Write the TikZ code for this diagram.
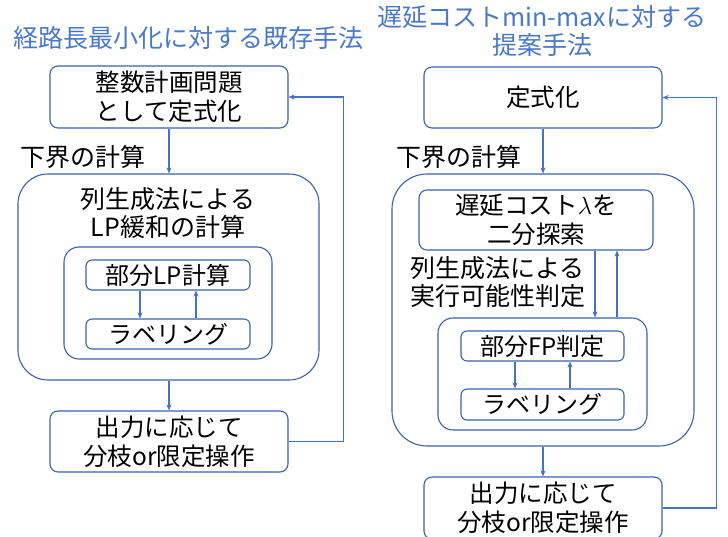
\documentclass[tikz,border=0pt]{standalone}
\usepackage{fontspec}
\setmainfont{Noto Sans CJK JP}
\usetikzlibrary{arrows.meta,calc}
\definecolor{boxline}{HTML}{3A62A8}
\definecolor{arrowc}{HTML}{4472C4}
\definecolor{titlec}{HTML}{4A78C8}
\tikzset{
  rbox/.style={draw=boxline, line width=1.1pt, rounded corners=#1, inner sep=0pt, align=center, font=\fontsize{24.5}{29}\selectfont},
  rbox/.default=8pt,
  sbox/.style={draw=boxline, line width=1.1pt, rounded corners=6pt, inner sep=0pt, align=center, font=\fontsize{24}{28}\selectfont},
  arr/.style={draw=arrowc, line width=1.4pt, -{Stealth[length=6pt,width=5pt]}},
  plain/.style={font=\fontsize{25}{28}\selectfont, inner sep=0pt, align=center},
  ttl/.style={font=\fontsize{25}{28}\selectfont, text=titlec, inner sep=0pt, align=center},
}
\begin{document}
\begin{tikzpicture}[x=1pt,y=-1pt]
\useasboundingbox (0,0) rectangle (728,537);
% ---------- left column ----------
\node[ttl] (lt) at (188,38) {経路長最小化に対する既存手法};
\node[rbox, minimum width=238pt, minimum height=62pt] (b1) at (169,97) {整数計画問題\\として定式化};
\node[plain, anchor=west] (lb1) at (20,157) {下界の計算};
\node[rbox=30pt, minimum width=301pt, minimum height=206pt] (big1) at (168.5,277) {};
\node[plain] (t1) at (168,213) {列生成法による\\LP緩和の計算};
\node[rbox=15pt, minimum width=208pt, minimum height=112pt] (in1) at (168,303) {};
\node[sbox, minimum width=164pt, minimum height=30pt] (s1) at (168,275) {部分LP計算};
\node[sbox, minimum width=164pt, minimum height=30pt] (s2) at (168,334) {ラベリング};
\node[rbox, minimum width=238pt, minimum height=61pt] (b4) at (169,441.5) {出力に応じて\\分枝or限定操作};
\draw[arr] (b1.south) -- (b1.south |- big1.north);
\draw[arr] ([xshift=-28pt]s1.south) -- ([xshift=-28pt]s2.north);
\draw[arr] ([xshift=28pt]s2.north) -- ([xshift=28pt]s1.south);
\draw[arr] (b4.north |- big1.south) -- (b4.north);
\draw[arr] (b4.east) -- ++(55,0) |- (b1.east);
% ---------- right column ----------
\node[ttl] (rt) at (542,31) {遅延コストmin-maxに対する\\提案手法};
\node[rbox, minimum width=238pt, minimum height=61pt] (r1) at (543,97.5) {定式化};
\node[plain, anchor=west] (lb2) at (396,157) {下界の計算};
\node[rbox=35pt, minimum width=302pt, minimum height=272pt] (big2) at (543,310) {};
\node[rbox, minimum width=234pt, minimum height=60pt] (lam) at (536,220) {遅延コスト$\lambda$を\\二分探索};
\node[plain, anchor=west, align=left] (t2) at (410,282) {列生成法による\\実行可能性判定};
\node[rbox=15pt, minimum width=209pt, minimum height=112pt] (in2) at (542.5,374) {};
\node[sbox, minimum width=163pt, minimum height=30pt] (f1) at (542.5,346) {部分FP判定};
\node[sbox, minimum width=163pt, minimum height=31pt] (f2) at (542.5,404.5) {ラベリング};
\node[rbox, minimum width=238pt, minimum height=62pt] (r4) at (543,508) {出力に応じて\\分枝or限定操作};
\draw[arr] (r1.south) -- (r1.south |- big2.north);
\draw[arr] ([xshift=59pt]lam.south) -- ([xshift=59pt]lam.south |- in2.north);
\draw[arr] ([xshift=81pt]lam.south |- in2.north) -- ([xshift=81pt]lam.south);
\draw[arr] ([xshift=-27.5pt]f1.south) -- ([xshift=-27.5pt]f2.north);
\draw[arr] ([xshift=27.5pt]f2.north) -- ([xshift=27.5pt]f1.south);
\draw[arr] (r4.north |- big2.south) -- (r4.north);
\draw[arr] (r4.east) -- ++(54,0) |- (r1.east);
\end{tikzpicture}
\end{document}
